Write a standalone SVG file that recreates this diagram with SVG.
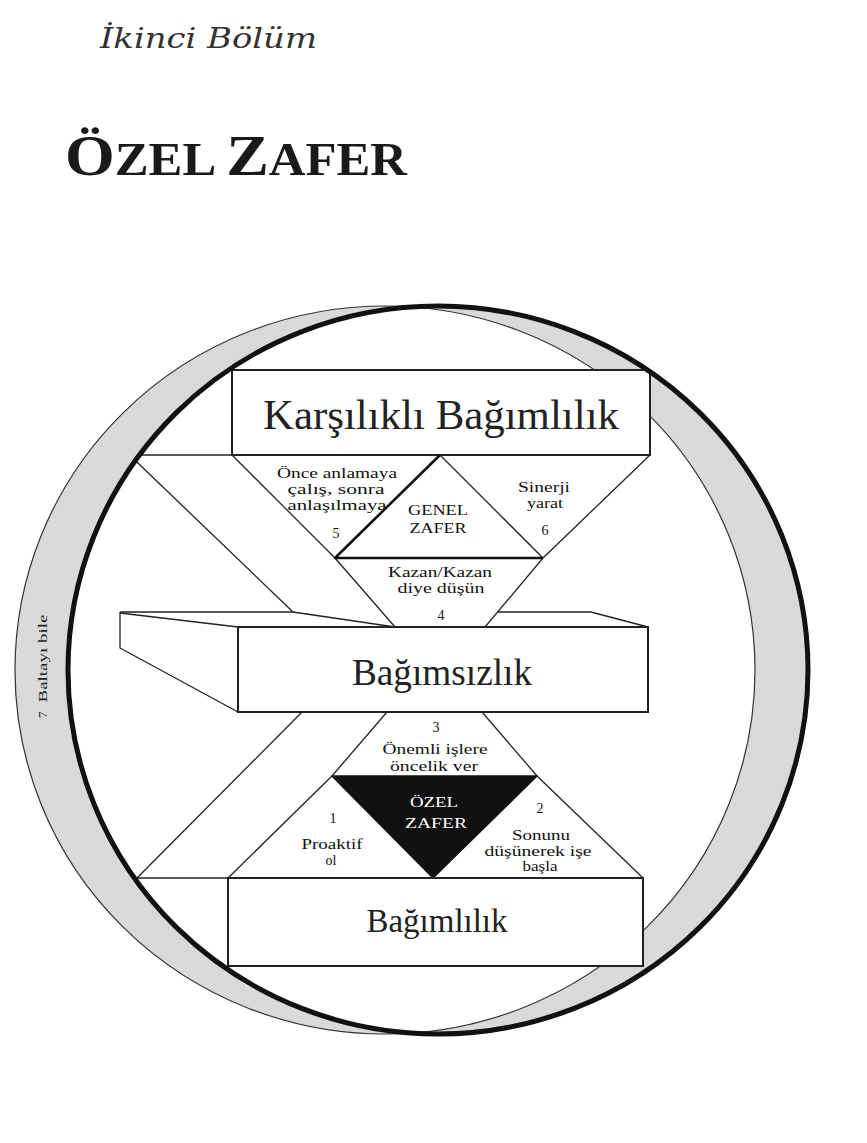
<svg xmlns="http://www.w3.org/2000/svg" width="867" height="1143" viewBox="0 0 867 1143">
<style>
.ln{fill:none;stroke:#222;stroke-width:1.3;stroke-linejoin:round}
.box{fill:#fff;stroke:#222;stroke-width:2}
.big{font-family:"Liberation Serif","Times New Roman",serif;fill:#222;text-anchor:middle}
.sm{font-family:"Liberation Serif","Times New Roman",serif;font-size:14px;fill:#111;text-anchor:middle}
.wt{fill:#fff}
</style>
<defs>
<clipPath id="inC1"><ellipse cx="438" cy="670" rx="370" ry="364"/></clipPath>
</defs>
<rect width="867" height="1143" fill="#fff"/>

<g id="title">
<text x="100" y="48" font-family="'DejaVu Serif','Liberation Serif',serif" font-style="italic" font-size="28" fill="#333" textLength="217" lengthAdjust="spacingAndGlyphs">İkinci Bölüm</text>
<text x="65" y="175" font-family="'Liberation Serif','Times New Roman',serif" font-weight="bold" fill="#1a1a1a" textLength="342" lengthAdjust="spacingAndGlyphs"><tspan font-size="58">Ö</tspan><tspan font-size="46">ZEL </tspan><tspan font-size="58">Z</tspan><tspan font-size="46">AFER</tspan></text>
</g>

<g id="crescent">
<path d="M68,670 A370,364 0 1,0 808,670 A370,364 0 1,0 68,670 Z M15,670 A370,364 0 1,0 755,670 A370,364 0 1,0 15,670 Z" fill="#d9d9d9" fill-rule="evenodd"/>
<ellipse cx="385" cy="670" rx="370" ry="364" fill="none" stroke="#333" stroke-width="1.2"/>
<text transform="translate(47,718) rotate(-90)" font-family="'Liberation Serif','Times New Roman',serif" font-size="13" fill="#222">7<tspan dx="9" textLength="88" lengthAdjust="spacingAndGlyphs">Baltayı bile</tspan></text>
</g>

<g id="connectors">
<g clip-path="url(#inC1)">
<line class="ln" x1="100" y1="455" x2="232" y2="455"/>
<polyline class="ln" points="100,426 140,465 293,612"/>
<polyline class="ln" points="100,916 142,873 302,712"/>
<line class="ln" x1="100" y1="878" x2="228" y2="878"/>
</g>
<polyline class="ln" points="232,455 335,558 395,627"/>
<polyline class="ln" points="650,455 543,558 485,627"/>
<polyline class="ln" points="387,712 332,776 228,878"/>
<polyline class="ln" points="482,712 537,776 643,878"/>
</g>

<g id="node-karsilikli">
<rect class="box" x="232" y="370" width="418" height="85"/>
<text class="big" x="441" y="429" font-size="42" textLength="356" lengthAdjust="spacingAndGlyphs">Karşılıklı Bağımlılık</text>
</g>

<g id="node-genel-zafer">
<polygon points="440,455 335,558 543,558" fill="#fff" stroke="none"/>
<line x1="440" y1="455" x2="543" y2="558" class="ln"/>
<polyline points="440,455 335,558 543,558" fill="none" stroke="#111" stroke-width="2.6" stroke-linejoin="round"/>
<text class="sm" x="438" y="515" textLength="60" lengthAdjust="spacingAndGlyphs">GENEL</text>
<text class="sm" x="438" y="533" textLength="57" lengthAdjust="spacingAndGlyphs">ZAFER</text>
</g>

<g id="habit-5">
<text class="sm" x="337" y="478" textLength="120" lengthAdjust="spacingAndGlyphs">Önce anlamaya</text>
<text class="sm" x="336" y="494" textLength="97" lengthAdjust="spacingAndGlyphs">çalış, sonra</text>
<text class="sm" x="337" y="510" textLength="99" lengthAdjust="spacingAndGlyphs">anlaşılmaya</text>
<text class="sm" x="336" y="538">5</text>
</g>

<g id="habit-6">
<text class="sm" x="544" y="492" textLength="52" lengthAdjust="spacingAndGlyphs">Sinerji</text>
<text class="sm" x="545" y="508" textLength="36" lengthAdjust="spacingAndGlyphs">yarat</text>
<text class="sm" x="545" y="535">6</text>
</g>

<g id="habit-4">
<text class="sm" x="440" y="577" textLength="104" lengthAdjust="spacingAndGlyphs">Kazan/Kazan</text>
<text class="sm" x="441" y="593" textLength="87" lengthAdjust="spacingAndGlyphs">diye düşün</text>
<text class="sm" x="441" y="620">4</text>
</g>

<g id="node-bagimsizlik">
<polygon points="120,612 238,627 238,712 120,648" fill="#fff" stroke="none"/>
<polyline class="ln" points="120,612 120,648 238,712"/>
<line class="ln" x1="120" y1="613" x2="238" y2="627"/>
<polyline class="ln" points="120,612 293,612 395,627"/>
<polyline class="ln" points="498,612 591,612 648,627"/>
<rect class="box" x="238" y="627" width="410" height="85"/>
<text class="big" x="442" y="685" font-size="38" textLength="180" lengthAdjust="spacingAndGlyphs">Bağımsızlık</text>
</g>

<g id="habit-3">
<text class="sm" x="436" y="732">3</text>
<text class="sm" x="435" y="754" textLength="105" lengthAdjust="spacingAndGlyphs">Önemli işlere</text>
<text class="sm" x="434" y="771" textLength="88" lengthAdjust="spacingAndGlyphs">öncelik ver</text>
</g>

<g id="node-ozel-zafer">
<polygon points="332,776 537,776 433,878" fill="#111" stroke="#111" stroke-width="1.5" stroke-linejoin="round"/>
<text class="sm wt" x="434" y="807" textLength="48" lengthAdjust="spacingAndGlyphs">ÖZEL</text>
<text class="sm wt" x="436" y="828" textLength="62" lengthAdjust="spacingAndGlyphs">ZAFER</text>
</g>

<g id="habit-1">
<text class="sm" x="333" y="823">1</text>
<text class="sm" x="332" y="849" textLength="61" lengthAdjust="spacingAndGlyphs">Proaktif</text>
<text class="sm" x="331" y="865">ol</text>
</g>

<g id="habit-2">
<text class="sm" x="540" y="813">2</text>
<text class="sm" x="541" y="840" textLength="58" lengthAdjust="spacingAndGlyphs">Sonunu</text>
<text class="sm" x="538" y="856" textLength="107" lengthAdjust="spacingAndGlyphs">düşünerek işe</text>
<text class="sm" x="540" y="871" textLength="35" lengthAdjust="spacingAndGlyphs">başla</text>
</g>

<g id="node-bagimlilik">
<rect class="box" x="228" y="878" width="415" height="88"/>
<text class="big" x="437" y="932" font-size="33" textLength="141" lengthAdjust="spacingAndGlyphs">Bağımlılık</text>
</g>

<g id="circle">
<ellipse cx="438" cy="670" rx="370" ry="364" fill="none" stroke="#111" stroke-width="5"/>
</g>
</svg>
